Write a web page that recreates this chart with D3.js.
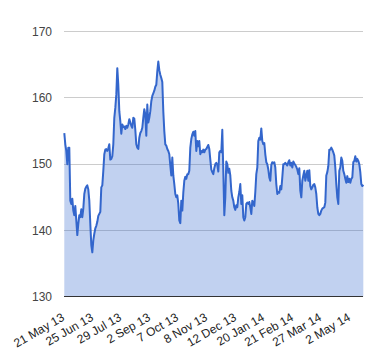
<!DOCTYPE html>
<html><head><meta charset="utf-8">
<script src="https://cdn.jsdelivr.net/npm/d3@7"></script>
<style>html,body{margin:0;padding:0;background:#fff;}svg{display:block;font-family:Arial,"Liberation Sans",sans-serif;}</style>
</head><body><div id="chart"></div>
<script>
const values = [
154.7,153,152,150,152.5,152.5,144.5,144,144.8,143,
142.3,143.7,141.5,139.3,141,142.3,142,143.2,142,143.3,
145.5,146.3,146.6,146.8,146.2,144.5,141,137.8,136.7,138.5,
139.5,140.3,140.7,141.3,142.2,142.5,142.8,146.5,146.8,149,
151.5,152.2,152.3,152,152.4,153,150.7,150.8,151.2,153,
157,158.5,160.5,164.5,162,158,156.5,154.6,156,155.6,
155.7,155.3,155.8,155.5,156,156.8,156.3,155.8,155.5,157,
156.9,155.2,153,152.5,152.3,154,154.7,155,155.5,157,
158.3,157.5,154.3,159,156.3,157,158,159.5,160.3,160.7,
161.1,161.7,162,164,165.5,164.2,163.5,163,162.4,158,
155,153,152.8,152.3,152,151.5,149.8,148.3,151,148.3,
147,145.5,145,145.3,144,141.5,141.1,144.5,143,145.7,
147.5,148.1,147.8,148.5,148.5,149,152.5,153.8,154.5,154.9,
154.3,155,152,153.5,152.7,153.5,151.5,152,151.8,152.2,
151.8,152.2,152.3,152.6,152.9,152.3,150.7,149.2,148.8,148.5,
149.4,150,150.2,149.9,148.9,151.8,152,151.8,155.2,149,
142.3,145,150.4,150,148.7,149.3,148.3,146,145,144.5,
143.5,143.1,143.8,143.5,145,145.8,147,144,145.3,142,
141.5,142,144,144.2,144,144.3,143.5,142.5,144.5,144.2,
143.7,145.8,148.5,149.5,153.5,154,153.7,155.4,153.5,153,
153.2,151.5,150.3,150,149.2,148,147.5,149.9,150.3,150.2,
150.3,149.5,147,145.5,145.8,145.7,146.7,146.2,148,150,
150,150.2,150,149.8,150.3,150.6,149.8,150.2,149.5,150.4,
150.1,149.9,149.6,149.2,148.5,149.4,146,145,147.5,148.3,
149,147.5,148.3,149,147.5,149.1,146.7,146.2,146.5,146.9,
147,146.5,145.5,143.5,142.5,142.3,142.5,143,143.3,143.4,
143.5,144.2,148.3,148.8,149.7,152.2,152.2,152.5,152.2,151.8,
151.3,149.5,147,145,144,149,149.5,151,150.5,149,
148.5,147.8,147.2,148.2,147.3,147.8,147.2,147.8,148,150.3,
150.5,151.2,150.4,150.8,150.5,150,148.8,147,146.7,146.9
];
const tickLabels = ["21 May 13","25 Jun 13","29 Jul 13","2 Sep 13","7 Oct 13","8 Nov 13","12 Dec 13","20 Jan 14","21 Feb 14","27 Mar 14","2 May 14"];
const tickIndex = [0,29,57,86,114,143,172,200,229,257,286];
const yTicks = [130,140,150,160,170];

const W = 380, H = 360;
const pLeft = 64.3, pRight = 363.3, pTop = 31.7, pBottom = 296.7;
const svg = d3.select("#chart").append("svg").attr("width", W).attr("height", H);

const x = d3.scaleLinear().domain([0, values.length - 1]).range([pLeft, pRight]);
const y = d3.scaleLinear().domain([130, 170]).range([pBottom, pTop]);

svg.append("g").selectAll("line").data(yTicks.filter(d => d !== 130)).join("line")
  .attr("x1", pLeft).attr("x2", pRight)
  .attr("y1", d => y(d)).attr("y2", d => y(d))
  .attr("stroke", "#cccccc").attr("stroke-width", 1).attr("shape-rendering", "crispEdges");

const area = d3.area().x((d, i) => x(i)).y0(y(130)).y1(d => y(d));
svg.append("path").datum(values).attr("d", area)
  .attr("fill", "#3366cc").attr("fill-opacity", 0.3);

svg.append("line").attr("x1", pLeft).attr("x2", pRight)
  .attr("y1", y(130)).attr("y2", y(130))
  .attr("stroke", "#333").attr("stroke-width", 1).attr("shape-rendering", "crispEdges");

const line = d3.line().x((d, i) => x(i)).y(d => y(d));
svg.append("path").datum(values).attr("d", line)
  .attr("fill", "none").attr("stroke", "#3366cc").attr("stroke-width", 2)
  .attr("stroke-linejoin", "round");

svg.append("g").selectAll("text").data(yTicks).join("text")
  .attr("x", 52).attr("y", d => y(d)).attr("dy", "0.35em")
  .attr("text-anchor", "end").attr("font-size", 12).attr("fill", "#444")
  .text(d => d);

svg.append("g").selectAll("text").data(tickIndex).join("text")
  .attr("transform", d => `translate(${x(d) + 1},${pBottom + 23}) rotate(-30)`)
  .attr("text-anchor", "end").attr("font-size", 12).attr("fill", "#222")
  .text((d, i) => tickLabels[i]);
</script>
</body></html>
